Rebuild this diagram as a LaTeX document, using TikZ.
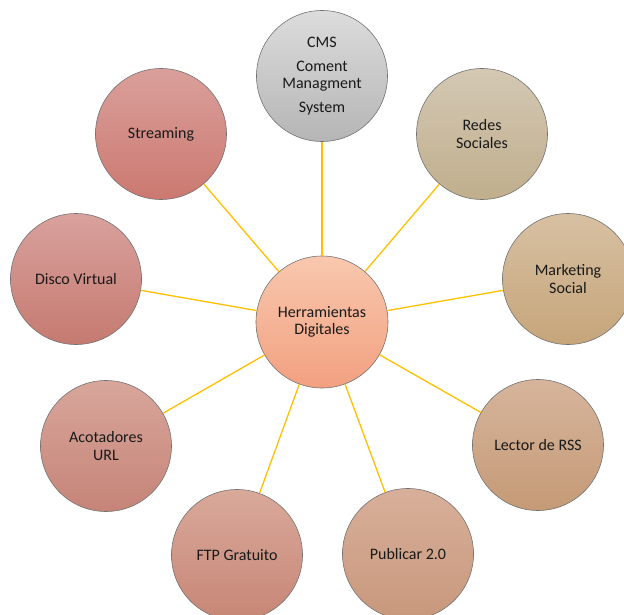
\documentclass[tikz,border=0pt]{standalone}
\usepackage{fontspec}
\setmainfont{Carlito}
\definecolor{linkgold}{HTML}{FFC000}
\definecolor{hubTop}{HTML}{F8C8AE}     \definecolor{hubBot}{HTML}{F2A080}
\definecolor{cmsTop}{HTML}{DCDCDC}     \definecolor{cmsBot}{HTML}{B5B5B5}
\definecolor{redesTop}{HTML}{D4C8B4}   \definecolor{redesBot}{HTML}{C0AE8C}
\definecolor{mktTop}{HTML}{D7C0A2}     \definecolor{mktBot}{HTML}{C6A57A}
\definecolor{rssTop}{HTML}{D6B59C}     \definecolor{rssBot}{HTML}{C59A76}
\definecolor{pubTop}{HTML}{D8AF9A}     \definecolor{pubBot}{HTML}{C8987C}
\definecolor{ftpTop}{HTML}{D9A99A}     \definecolor{ftpBot}{HTML}{C78676}
\definecolor{acotTop}{HTML}{D8A69B}    \definecolor{acotBot}{HTML}{C68478}
\definecolor{discoTop}{HTML}{D9A19D}   \definecolor{discoBot}{HTML}{C57A70}
\definecolor{streamTop}{HTML}{DA9F9B}  \definecolor{streamBot}{HTML}{CB7970}
\tikzset{tool/.style = {circle, draw=black!55, line width=0.6pt,
  minimum size=131pt, inner sep=0pt, align=center,
  font=\fontsize{16}{17.5}\selectfont, text=black!90}}
\tikzset{tint/.style = {top color=#1Top, bottom color=#1Bot}}
\tikzset{link/.style = {draw=linkgold, line width=1.3pt}}

\begin{document}
\begin{tikzpicture}[x=1pt, y=-1pt]
  \useasboundingbox (0,0) rectangle (624,615);
  \node[tool, tint=hub, minimum size=132pt] (hub) at (322,322)
       {Herramientas\\Digitales};
  \node[tool, tint=cms] (cms) at (322,76)
       {CMS\\[6pt]Coment\\Managment\\[6pt]System};
  \node[tool, tint=redes] (redes) at (482,134) {Redes\\Sociales};
  \node[tool, tint=mkt] (marketing) at (568,279) {Marketing\\Social};
  \node[tool, tint=rss] (rss) at (538,445) {Lector de RSS};
  \node[tool, tint=pub] (publicar) at (408,554) {Publicar 2.0};
  \node[tool, tint=ftp] (ftp) at (237,555) {FTP Gratuito};
  \node[tool, tint=acot] (acotadores) at (106,446) {Acotadores\\URL};
  \node[tool, tint=disco] (disco) at (76,279) {Disco Virtual};
  \node[tool, tint=stream] (streaming) at (161,134) {Streaming};
  \foreach \n in {cms,redes,marketing,rss,publicar,ftp,acotadores,disco,streaming}
    \draw[link] (hub) -- (\n);
\end{tikzpicture}
\end{document}
